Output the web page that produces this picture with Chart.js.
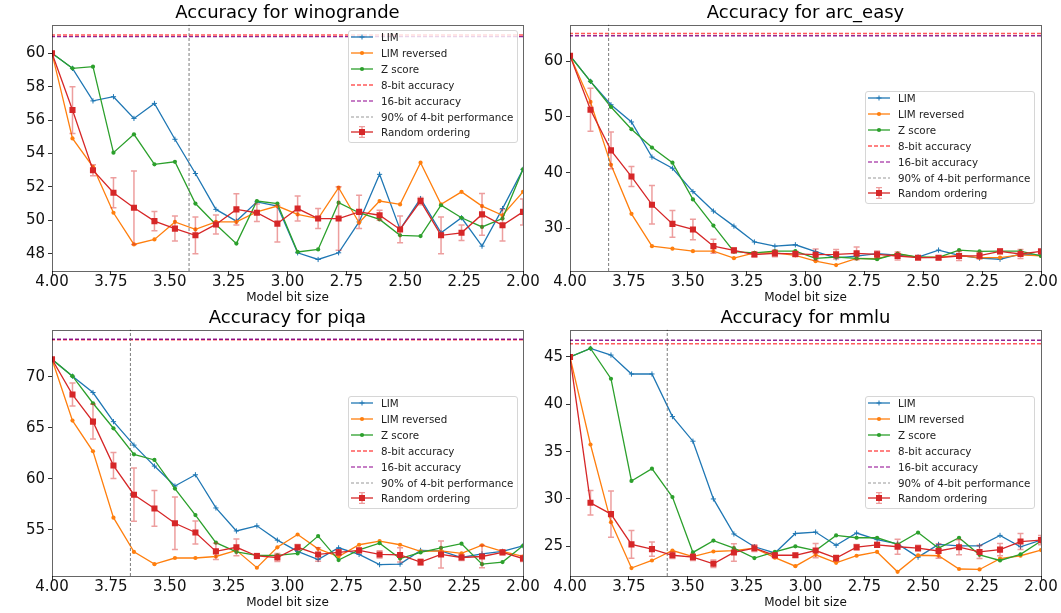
<!DOCTYPE html>
<html>
<head>
<meta charset="utf-8">
<script src="https://cdn.jsdelivr.net/npm/chart.js@4.4.1/dist/chart.umd.min.js"></script>
<style>
  body { margin: 0; background: #fff; width: 1061px; height: 613px; position: relative; overflow: hidden; font-family: "DejaVu Sans", sans-serif; }
  .panel { position: absolute; }
  .legend { position: absolute; width: 170px; height: 113px; box-sizing: border-box; background: rgba(255,255,255,0.8); border: 1px solid #d6d6d6; border-radius: 3px; font-size: 10.3px; color: #222; }
  .legend .rows { position: relative; top: -1.5px; left: 2px; }
  .legend .row { height: 15.85px; display: flex; align-items: center; white-space: nowrap; }
  .legend svg { width: 22px; height: 12px; margin-right: 8px; flex: none; }
</style>
</head>
<body>
<div class="panel" style="left:0;top:0;width:545px;height:306px"><canvas id="c0"></canvas></div>
<div class="panel" style="left:518px;top:0;width:543px;height:306px"><canvas id="c1"></canvas></div>
<div class="panel" style="left:0;top:305px;width:545px;height:308px"><canvas id="c2"></canvas></div>
<div class="panel" style="left:518px;top:305px;width:543px;height:308px"><canvas id="c3"></canvas></div>
<div class="legend" id="l0" style="left:348px;top:30px"></div>
<div class="legend" id="l1" style="left:865px;top:91px"></div>
<div class="legend" id="l2" style="left:348px;top:396px"></div>
<div class="legend" id="l3" style="left:865px;top:396px"></div>
<script>
// x: model bit size (24 steps from 4 down to 2)
const bitSizes = [4.000, 3.913, 3.826, 3.739, 3.652, 3.565, 3.478, 3.391, 3.304, 3.217, 3.130, 3.043,
                  2.957, 2.870, 2.783, 2.696, 2.609, 2.522, 2.435, 2.348, 2.261, 2.174, 2.087, 2.000];
const xTicks = [4.00, 3.75, 3.50, 3.25, 3.00, 2.75, 2.50, 2.25, 2.00];

// winogrande
const winoLim    = [60.0, 59.1, 57.15, 57.4, 56.1, 57.0, 54.85, 52.8, 50.65, 49.95, 51.1, 50.85, 48.05, 47.65, 48.05, 49.9, 52.75, 49.45, 51.3, 49.25, 50.15, 48.45, 50.7, 53.05];
const winoLimRev = [60.0, 54.9, 53.2, 50.45, 48.55, 48.85, 49.9, 49.45, 49.9, 49.9, 50.5, 50.85, 50.35, 50.1, 51.95, 49.85, 51.15, 50.95, 53.45, 50.95, 51.7, 50.85, 50.3, 51.7];
const winoZ      = [60.0, 59.1, 59.2, 54.05, 55.15, 53.35, 53.5, 51.0, 49.75, 48.6, 51.15, 51.0, 48.1, 48.25, 51.05, 50.45, 50.05, 49.1, 49.05, 50.9, 50.15, 49.6, 50.1, 53.05];
const winoRand   = [60.0, 56.6, 53.0, 51.65, 50.75, 49.95, 49.5, 49.1, 49.75, 50.65, 50.45, 49.8, 50.7, 50.1, 50.1, 50.5, 50.3, 49.45, 51.15, 49.1, 49.25, 50.35, 49.7, 50.5];
const winoRandErr = [0, 1.4, 0.33, 0.9, 2.2, 0.58, 0.75, 1.1, 0.57, 0.93, 0.53, 1.1, 0.75, 0.6, 1.9, 1.0, 0.3, 0.8, 0.22, 1.1, 0.46, 1.25, 0.95, 0.78];
const winoAcc8 = 61.1, winoAcc16 = 61.0, winoCut90 = 3.418;
const winoYTicks = [48, 50, 52, 54, 56, 58, 60];
const winoYRange = [46.96, 61.72];

// arc_easy
const arcLim    = [61.0, 56.4, 52.2, 49.1, 42.8, 40.8, 36.6, 33.1, 30.4, 27.55, 26.8, 27.05, 25.8, 24.7, 25.0, 25.45, 25.2, 24.85, 26.1, 25.15, 24.65, 24.45, 25.35, 25.15];
const arcLimRev = [61.0, 52.7, 41.4, 32.6, 26.8, 26.35, 25.9, 25.9, 24.65, 25.6, 25.6, 25.15, 24.1, 23.4, 24.6, 24.55, 25.45, 24.75, 24.85, 25.1, 24.75, 24.75, 25.25, 25.05];
const arcZ      = [61.0, 56.4, 51.8, 47.8, 44.5, 41.8, 35.2, 30.5, 25.8, 25.6, 25.9, 25.9, 24.6, 24.85, 24.6, 24.45, 25.45, 24.85, 24.8, 26.1, 25.85, 25.9, 25.9, 25.05];
const arcRand   = [61.0, 51.3, 44.0, 39.3, 34.25, 30.8, 29.8, 26.8, 26.05, 25.3, 25.5, 25.4, 25.27, 25.33, 25.5, 25.33, 25.03, 24.73, 24.73, 25.03, 25.09, 25.87, 25.39, 25.87];
const arcRandErr = [0, 3.85, 3.3, 1.8, 3.45, 2.4, 1.85, 1.25, 0.4, 0.4, 0.6, 0.5, 1.0, 0.85, 1.15, 0.6, 0.7, 0.3, 0.35, 0.8, 0.6, 0.4, 0.8, 0.2];
const arcAcc8 = 65.0, arcAcc16 = 64.6, arcCut90 = 3.836;
const arcYTicks = [30, 40, 50, 60];
const arcYRange = [22.34, 66.59];

// piqa
const piqaLim    = [71.7, 70.05, 68.45, 65.6, 63.3, 61.25, 59.3, 60.4, 57.15, 54.9, 55.4, 54.0, 52.9, 52.1, 53.25, 52.6, 51.6, 51.65, 53.0, 52.95, 52.3, 52.65, 52.9, 53.45];
const piqaLimRev = [71.7, 65.7, 62.7, 56.2, 52.85, 51.65, 52.25, 52.25, 52.4, 53.0, 51.3, 53.3, 54.55, 53.15, 52.4, 53.55, 53.9, 53.55, 52.9, 52.95, 52.7, 53.5, 52.9, 52.4];
const piqaZ      = [71.7, 70.05, 67.4, 64.95, 62.4, 61.85, 59.05, 56.45, 53.75, 52.85, 52.5, 52.5, 52.7, 54.4, 52.05, 53.05, 53.7, 52.2, 52.8, 53.25, 53.65, 51.65, 51.85, 53.45];
const piqaRand   = [71.7, 68.25, 65.6, 61.3, 58.45, 57.1, 55.65, 54.75, 52.9, 53.3, 52.45, 52.3, 53.3, 52.6, 52.8, 53.0, 52.6, 52.55, 51.85, 52.6, 52.3, 52.4, 52.8, 52.2];
const piqaRandErr = [0, 1.13, 1.7, 1.27, 2.6, 1.75, 2.57, 1.13, 0.8, 0.82, 0.25, 0.4, 0.27, 0.66, 0.25, 0.2, 0.36, 0.7, 0.3, 1.32, 0.3, 1.1, 0.2, 0.3];
const piqaAcc8 = 73.62, piqaAcc16 = 73.66, piqaCut90 = 3.667;
const piqaYTicks = [55, 60, 65, 70];
const piqaYRange = [50.49, 74.61];

// mmlu
const mmluLim    = [45.0, 45.9, 45.2, 43.2, 43.2, 38.7, 36.1, 30.0, 26.3, 24.95, 24.3, 26.35, 26.5, 25.1, 26.4, 25.7, 25.25, 23.85, 25.2, 25.05, 25.05, 26.15, 24.95, 25.65];
const mmluLimRev = [45.0, 35.75, 27.55, 22.7, 23.5, 24.55, 23.9, 24.45, 24.55, 24.8, 23.8, 22.9, 24.1, 23.25, 24.0, 24.4, 22.3, 24.05, 24.0, 22.6, 22.55, 23.7, 24.0, 24.6];
const mmluZ      = [45.0, 45.9, 42.7, 31.9, 33.2, 30.2, 24.35, 25.6, 24.8, 23.75, 24.4, 25.0, 24.55, 26.15, 25.9, 25.9, 25.2, 26.45, 24.8, 25.9, 24.1, 23.5, 24.15, 25.55];
const mmluRand   = [45.0, 29.6, 28.4, 25.2, 24.7, 24.05, 23.85, 23.15, 24.35, 24.8, 24.05, 24.05, 24.55, 23.75, 24.9, 25.15, 24.95, 24.8, 24.5, 24.9, 24.4, 24.65, 25.5, 25.65];
const mmluRandErr = [0, 1.3, 2.45, 1.47, 0.76, 0.35, 0.35, 0.4, 0.92, 0.35, 0.25, 0.2, 0.75, 0.3, 0.3, 0.25, 0.8, 0.3, 0.77, 0.8, 0.7, 0.65, 0.85, 0.5];
const mmluAcc8 = 46.4, mmluAcc16 = 46.76, mmluCut90 = 3.587;
const mmluYTicks = [25, 30, 35, 40, 45];
const mmluYRange = [21.86, 47.89];

const BLUE = '#1f77b4', ORANGE = '#ff7f0e', GREEN = '#2ca02c', RED = '#d62728';
const ACC8_COLOR = 'rgba(255,0,0,0.65)';
const ACC16_COLOR = 'rgba(128,0,128,0.85)';
const CUT_COLOR = 'rgba(110,110,110,0.9)';
const ERR_COLOR = 'rgba(214,39,40,0.45)';

Chart.defaults.font.family = '"DejaVu Sans", sans-serif';
Chart.defaults.color = '#111';

// error bars for the random ordering series
const errorBarPlugin = {
    id: 'errorBars',
    beforeDatasetDraw(chart, args) {
        const ds = chart.data.datasets[args.index];
        if (!ds.errorBars) return;
        const xs = chart.scales.x, ys = chart.scales.y, ctx = chart.ctx, area = chart.chartArea;
        ctx.save();
        ctx.beginPath();
        ctx.rect(area.left, area.top, area.right - area.left, area.bottom - area.top);
        ctx.clip();
        ctx.strokeStyle = ERR_COLOR;
        ctx.lineWidth = 1.5;
        ds.data.forEach((p, i) => {
            const e = ds.errorBars[i];
            if (!e) return;
            const px = xs.getPixelForValue(p.x);
            const top = ys.getPixelForValue(p.y + e);
            const bot = ys.getPixelForValue(p.y - e);
            ctx.beginPath();
            ctx.moveTo(px, top); ctx.lineTo(px, bot);
            ctx.moveTo(px - 3, top); ctx.lineTo(px + 3, top);
            ctx.moveTo(px - 3, bot); ctx.lineTo(px + 3, bot);
            ctx.stroke();
        });
        ctx.restore();
    }
};

// full box around plot area (like matplotlib spines)
const framePlugin = {
    id: 'frame',
    afterDraw(chart) {
        const a = chart.chartArea, ctx = chart.ctx;
        ctx.save();
        ctx.strokeStyle = 'rgba(0,0,0,0.6)';
        ctx.lineWidth = 1;
        ctx.strokeRect(Math.round(a.left) + 0.5, Math.round(a.top) + 0.5, Math.round(a.right - a.left), Math.round(a.bottom - a.top));
        ctx.restore();
    }
};

function toPoints(values) {
    return values.map((v, i) => ({ x: bitSizes[i], y: v }));
}

function makePanel(canvasId, name, lim, limRev, zScore, rand, randErr, acc8, acc16, cut90, yRange, yTicks, padRight, padBottom) {
    new Chart(document.getElementById(canvasId), {
        type: 'line',
        data: {
            datasets: [
                { label: 'LIM', data: toPoints(lim), borderColor: BLUE, backgroundColor: BLUE,
                  pointStyle: 'cross', pointRadius: 2.6, pointBorderWidth: 1, borderWidth: 1.3, order: 7 },
                { label: 'LIM reversed', data: toPoints(limRev), borderColor: ORANGE, backgroundColor: ORANGE,
                  pointStyle: 'circle', pointRadius: 2.1, pointBorderWidth: 0, borderWidth: 1.3, order: 6 },
                { label: 'Z score', data: toPoints(zScore), borderColor: GREEN, backgroundColor: GREEN,
                  pointStyle: 'circle', pointRadius: 2.1, pointBorderWidth: 0, borderWidth: 1.3, order: 5 },
                { label: '8-bit accuracy', data: [{ x: 2, y: acc8 }, { x: 4, y: acc8 }], borderColor: ACC8_COLOR,
                  borderDash: [4, 2], borderWidth: 1.4, pointRadius: 0, order: 4 },
                { label: '16-bit accuracy', data: [{ x: 2, y: acc16 }, { x: 4, y: acc16 }], borderColor: ACC16_COLOR,
                  borderDash: [4, 2], borderWidth: 1.4, pointRadius: 0, order: 3 },
                { label: '90% of 4-bit performance', data: [{ x: cut90, y: yRange[0] }, { x: cut90, y: yRange[1] }],
                  borderColor: CUT_COLOR, borderDash: [3, 2], borderWidth: 1, pointRadius: 0, order: 2 },
                { label: 'Random ordering', data: toPoints(rand), errorBars: randErr, borderColor: RED, backgroundColor: RED,
                  pointStyle: 'rect', pointRadius: 4.3, pointBorderWidth: 0, borderWidth: 1.3, order: 1 }
            ]
        },
        options: {
            responsive: true,
            maintainAspectRatio: false,
            animation: false,
            events: [],
            layout: { autoPadding: false, padding: { left: 0, right: padRight, top: 0, bottom: padBottom } },
            plugins: {
                legend: { display: false },
                tooltip: { enabled: false },
                title: {
                    display: true, text: 'Accuracy for ' + name, fullSize: false,
                    font: { size: 18, weight: 'normal' }, color: '#000',
                    padding: { top: 3, bottom: 0 }
                }
            },
            scales: {
                x: {
                    type: 'linear', reverse: true, min: 2, max: 4,
                    afterBuildTicks: s => { s.ticks = xTicks.map(v => ({ value: v })); },
                    afterFit: s => { s.height = 35; },
                    ticks: { font: { size: 15 }, padding: -2, maxRotation: 0, autoSkip: false,
                             callback: v => Number(v).toFixed(2) },
                    grid: { display: true, drawOnChartArea: false, drawTicks: true, tickLength: 4, color: '#333' },
                    border: { display: false },
                    title: { display: true, text: 'Model bit size', font: { size: 12 }, padding: { top: 0, bottom: 0.5 }, color: '#111' }
                },
                y: {
                    type: 'linear', min: yRange[0], max: yRange[1],
                    afterBuildTicks: s => { s.ticks = yTicks.map(v => ({ value: v })); },
                    afterFit: s => { s.width = 52; },
                    ticks: { font: { size: 15 }, padding: 3, callback: v => String(v) },
                    grid: { display: true, drawOnChartArea: false, drawTicks: true, tickLength: 4, color: '#333' },
                    border: { display: false }
                }
            }
        },
        plugins: [errorBarPlugin, framePlugin]
    });
}

// legend drawn as html so the text stays real text
function legendSample(kind) {
    const line = (c, extra) => `<line x1="0" y1="6" x2="22" y2="6" stroke="${c}" ${extra || 'stroke-width="1.3"'}/>`;
    switch (kind) {
        case 'lim': return line(BLUE) + `<path d="M8.5 6H13.5M11 3.5V8.5" stroke="${BLUE}" stroke-width="1"/>`;
        case 'rev': return line(ORANGE) + `<circle cx="11" cy="6" r="2.1" fill="${ORANGE}"/>`;
        case 'z': return line(GREEN) + `<circle cx="11" cy="6" r="2.1" fill="${GREEN}"/>`;
        case 'a8': return line(ACC8_COLOR, 'stroke-width="1.4" stroke-dasharray="4 2"');
        case 'a16': return line('rgba(160,40,160,0.8)', 'stroke-width="1.4" stroke-dasharray="4 2"');
        case 'cut': return line('rgba(140,140,140,0.9)', 'stroke-width="1" stroke-dasharray="3 2"');
        case 'rand': return `<path d="M11 0.5V11.5M8 0.5H14M8 11.5H14" stroke="${ERR_COLOR}" stroke-width="1.5"/>` +
                            line(RED) + `<rect x="8" y="3" width="6" height="6" fill="${RED}"/>`;
    }
}
const legendEntries = [
    ['lim', 'LIM'], ['rev', 'LIM reversed'], ['z', 'Z score'], ['a8', '8-bit accuracy'],
    ['a16', '16-bit accuracy'], ['cut', '90% of 4-bit performance'], ['rand', 'Random ordering']
];
function makeLegend(id) {
    const rows = legendEntries.map(([k, t]) =>
        `<div class="row"><svg viewBox="0 0 22 12">${legendSample(k)}</svg><span>${t}</span></div>`).join('');
    document.getElementById(id).innerHTML = `<div class="rows">${rows}</div>`;
}

makePanel('c0', 'winogrande', winoLim, winoLimRev, winoZ, winoRand, winoRandErr, winoAcc8, winoAcc16, winoCut90, winoYRange, winoYTicks, 22, 0);
makePanel('c1', 'arc_easy', arcLim, arcLimRev, arcZ, arcRand, arcRandErr, arcAcc8, arcAcc16, arcCut90, arcYRange, arcYTicks, 20, 0);
makePanel('c2', 'piqa', piqaLim, piqaLimRev, piqaZ, piqaRand, piqaRandErr, piqaAcc8, piqaAcc16, piqaCut90, piqaYRange, piqaYTicks, 22, 2);
makePanel('c3', 'mmlu', mmluLim, mmluLimRev, mmluZ, mmluRand, mmluRandErr, mmluAcc8, mmluAcc16, mmluCut90, mmluYRange, mmluYTicks, 20, 2);
['l0', 'l1', 'l2', 'l3'].forEach(makeLegend);
</script>
</body>
</html>
